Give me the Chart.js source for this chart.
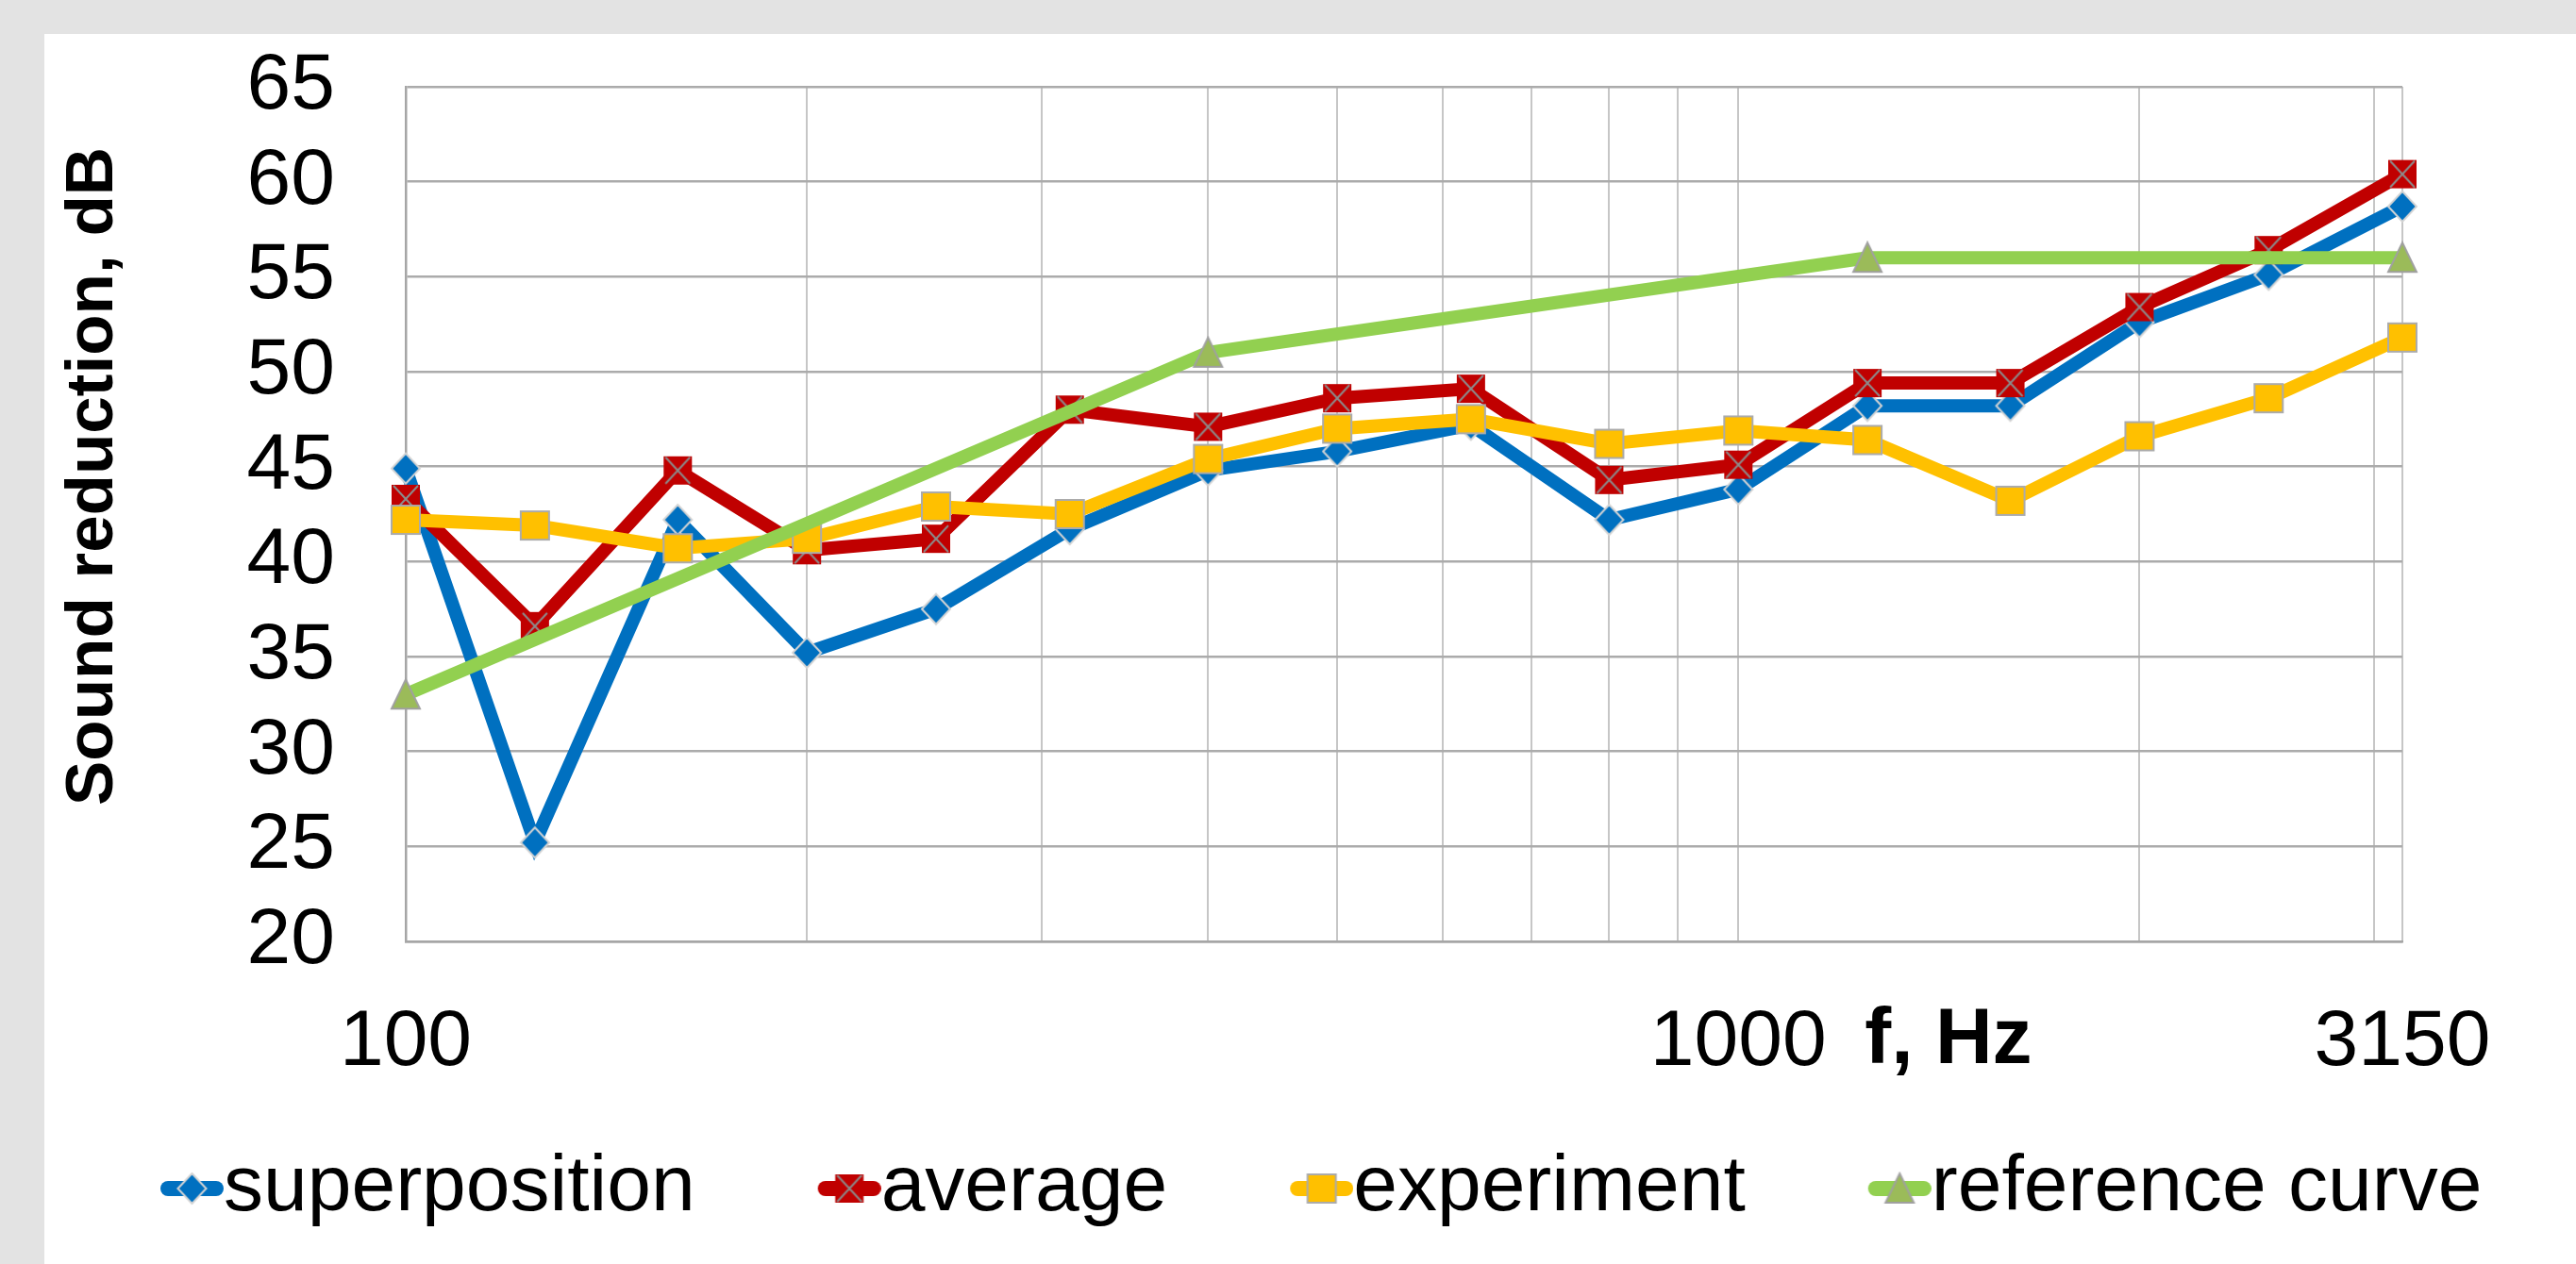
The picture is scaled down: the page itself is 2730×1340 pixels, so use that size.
<!DOCTYPE html>
<html>
<head>
<meta charset="utf-8">
<title>Sound reduction</title>
<script src="https://cdn.jsdelivr.net/npm/chart.js@4.4.1/dist/chart.umd.min.js"></script>
<style>
  html, body { margin: 0; padding: 0; background: #e3e3e3; }
  canvas { display: block; }
</style>
</head>
<body>
<canvas id="myChart" width="2730" height="1340"></canvas>
<script>
// third-octave band centre frequencies, Hz
const freqs = [100, 125, 160, 200, 250, 315, 400, 500, 630, 800, 1000, 1250, 1600, 2000, 2500, 3150];

const superposition = [44.9, 25.2, 42.2, 35.2, 37.5, 41.7, 44.8, 45.8, 47.2, 42.2, 43.8, 48.2, 48.2, 52.6, 55.1, 58.7];
const average = [43.3, 36.6, 44.8, 40.6, 41.2, 48.0, 47.1, 48.6, 49.1, 44.3, 45.1, 49.4, 49.4, 53.4, 56.4, 60.4];
const experiment = [42.2, 41.9, 40.7, 41.2, 42.9, 42.5, 45.4, 47.0, 47.5, 46.2, 46.9, 46.4, 43.2, 46.6, 48.6, 51.8];

// reference curve, only its break points are marked
const refFreqs = [100, 400, 1250, 3150];
const refValues = [33, 51, 56, 56];

const seriesNames = ['superposition', 'average', 'experiment', 'reference curve'];
const xGridValues = [100, 200, 300, 400, 500, 600, 700, 800, 900, 1000, 2000, 3000, 3150];
const xTickLabels = [100, 1000, 3150];

const FONT = "'Liberation Sans', Arial, sans-serif";
Chart.defaults.font.family = FONT;
Chart.defaults.color = '#000';

// excel-like markers drawn once onto small canvases
function makeMarker(kind) {
  const c = document.createElement('canvas');
  c.width = 36; c.height = 36;
  const g = c.getContext('2d');
  const m = 18, h = 15;
  g.lineWidth = 2;
  if (kind === 'diamond') {
    g.beginPath();
    g.moveTo(m, m - h - 1); g.lineTo(m + h, m); g.lineTo(m, m + h + 1); g.lineTo(m - h, m);
    g.closePath();
    g.fillStyle = '#0070C0'; g.fill();
    g.strokeStyle = '#D4D4D4'; g.stroke();
  } else if (kind === 'cross') {
    g.fillStyle = '#C00000';
    g.fillRect(m - h, m - h, 2 * h, 2 * h);
    g.strokeStyle = '#8C8C8C';
    g.beginPath();
    g.moveTo(m - h + 2, m - h + 1); g.lineTo(m + h - 2, m + h - 1);
    g.moveTo(m + h - 2, m - h + 1); g.lineTo(m - h + 2, m + h - 1);
    g.stroke();
  } else if (kind === 'square') {
    g.fillStyle = '#FFC000';
    g.fillRect(m - h, m - h, 2 * h, 2 * h);
    g.strokeStyle = '#ABABAB';
    g.strokeRect(m - h, m - h, 2 * h, 2 * h);
  } else {
    g.beginPath();
    g.moveTo(m, m - h - 1); g.lineTo(m + h, m + h); g.lineTo(m - h, m + h);
    g.closePath();
    g.fillStyle = '#9BBB59'; g.fill();
    g.strokeStyle = '#A0A0A0'; g.stroke();
  }
  return c;
}

// legend symbol: short round-capped line with the marker on it,
// pushed to the right end so the text follows it directly
function makeLegendIcon(color, marker) {
  const c = document.createElement('canvas');
  c.width = 224; c.height = 36;
  const g = c.getContext('2d');
  g.strokeStyle = color;
  g.lineWidth = 16;
  g.lineCap = 'round';
  g.beginPath();
  g.moveTo(157 + 8, 18);
  g.lineTo(224 - 8, 18);
  g.stroke();
  g.drawImage(marker, 190.5 - 18, 0);
  return c;
}

const colors = ['#0070C0', '#C00000', '#FFC000', '#92D050'];
const markers = [makeMarker('diamond'), makeMarker('cross'), makeMarker('square'), makeMarker('triangle')];
const legendIcons = colors.map((c, i) => makeLegendIcon(c, markers[i]));

const toPoints = (xs, ys) => xs.map((f, i) => ({ x: f, y: ys[i] }));
const seriesData = [
  toPoints(freqs, superposition),
  toPoints(freqs, average),
  toPoints(freqs, experiment),
  toPoints(refFreqs, refValues)
];

const background = {
  id: 'background',
  beforeDraw(chart) {
    const { ctx, width, height } = chart;
    ctx.save();
    ctx.fillStyle = '#e3e3e3';
    ctx.fillRect(0, 0, width, height);
    ctx.fillStyle = '#ffffff';
    ctx.fillRect(47, 36, width - 47, height - 36);
    ctx.restore();
  }
};

const axisTitles = {
  id: 'axisTitles',
  afterDraw(chart) {
    const { ctx, chartArea, scales: { x } } = chart;
    ctx.save();
    ctx.fillStyle = '#000';
    ctx.textBaseline = 'middle';
    ctx.textAlign = 'left';
    ctx.font = 'bold 84px ' + FONT;
    ctx.fillText('f, Hz', x.getPixelForValue(1000) + 134, x.top + 55 + 84 * 1.2 / 2);
    ctx.translate(99, (chartArea.top + chartArea.bottom) / 2 - 40);
    ctx.rotate(-Math.PI / 2);
    ctx.textAlign = 'center';
    ctx.font = 'bold 71px ' + FONT;
    ctx.fillText('Sound reduction, dB', 0, 0);
    ctx.restore();
  }
};

const ctx = document.getElementById('myChart').getContext('2d');
new Chart(ctx, {
  type: 'line',
  data: {
    datasets: seriesNames.map((name, i) => ({
      label: name,
      data: seriesData[i],
      borderColor: colors[i],
      backgroundColor: colors[i],
      borderWidth: 14,
      pointStyle: markers[i],
      pointRadius: 15,
      tension: 0,
      clip: false,
      order: 4 - i
    }))
  },
  options: {
    responsive: false,
    devicePixelRatio: 1,
    animation: false,
    layout: { padding: { left: 40, top: 92, right: 0, bottom: 28 } },
    plugins: {
      tooltip: { enabled: false },
      legend: {
        position: 'bottom',
        align: 'start',
        labels: {
          usePointStyle: true,
          pointStyleWidth: 140,
          padding: 15,
          color: '#000',
          font: { size: 84 },
          generateLabels: (chart) => chart.data.datasets.map((ds, i) => ({
            text: ds.label,
            pointStyle: legendIcons[i],
            datasetIndex: i,
            hidden: false,
            fontColor: '#000',
            lineWidth: 0,
            strokeStyle: 'transparent',
            fillStyle: 'transparent'
          }))
        }
      }
    },
    scales: {
      x: {
        type: 'logarithmic',
        min: 100,
        max: 3150,
        afterBuildTicks: (s) => { s.ticks = xGridValues.map(v => ({ value: v })); },
        afterFit: (s) => { s.height = 205; s.paddingRight = 184; },
        ticks: {
          autoSkip: false,
          maxRotation: 0,
          minRotation: 0,
          padding: 57,
          color: '#000',
          font: { size: 84 },
          callback: (v) => xTickLabels.includes(v) ? String(v) : ''
        },
        grid: { color: '#C6C6C6', lineWidth: 2, drawTicks: false },
        border: { color: '#A6A6A6', width: 2.5 }
      },
      y: {
        min: 20,
        max: 65,
        afterFit: (s) => { s.width = 390; s.paddingTop = 0; s.paddingBottom = 0; },
        ticks: {
          stepSize: 5,
          autoSkip: false,
          padding: 75,
          color: '#000',
          font: { size: 84 }
        },
        grid: { color: '#ABABAB', lineWidth: 2.5, drawTicks: false },
        border: { color: '#A6A6A6', width: 2.5 }
      }
    }
  },
  plugins: [background, axisTitles]
});
</script>
</body>
</html>
